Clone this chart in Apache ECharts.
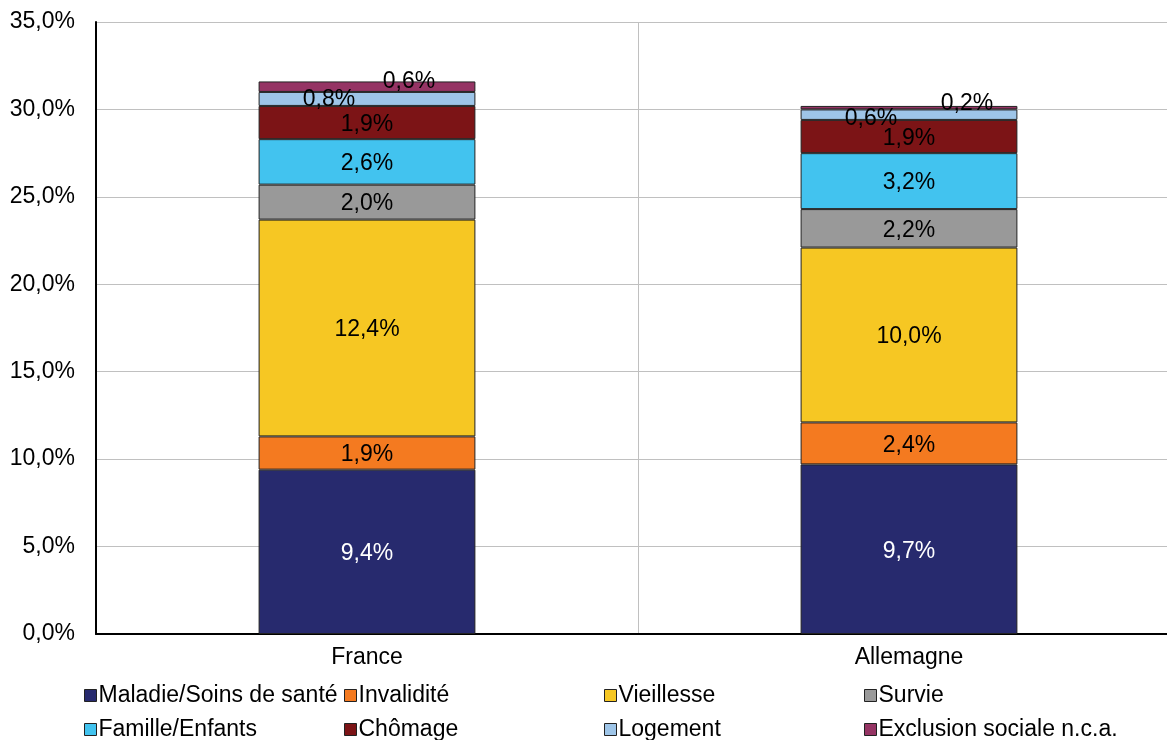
<!DOCTYPE html>
<html><head><meta charset="utf-8">
<script src="https://cdn.jsdelivr.net/npm/echarts@6/dist/echarts.min.js"></script>
<style>html,body{margin:0;padding:0;background:#fff}#c{width:1167px;height:740px}</style>
</head><body><div id="c"></div>
<script>
const categories = ['France', 'Allemagne'];
const seriesNames = ['Maladie/Soins de santé', 'Invalidité', 'Vieillesse', 'Survie', 'Famille/Enfants', 'Chômage', 'Logement', 'Exclusion sociale n.c.a.'];
const maladie = [9.4, 9.7];
const invalidite = [1.9, 2.4];
const vieillesse = [12.4, 10.0];
const survie = [2.0, 2.2];
const famille = [2.6, 3.2];
const chomage = [1.9, 1.9];
const logement = [0.8, 0.6];
const exclusion = [0.6, 0.2];
const yTicks = [0, 5, 10, 15, 20, 25, 30, 35];

const values = [maladie, invalidite, vieillesse, survie, famille, chomage, logement, exclusion];
const colors = ['#272A6E', '#F47A20', '#F6C723', '#999999', '#42C3EF', '#7C1416', '#9EC5E8', '#953464'];
const labelColors = ['#fff', '#000', '#000', '#000', '#000', '#000', '#000', '#000'];
// label offsets for thin segments: [seriesIndex][categoryIndex]
const labelOffsets = {6: [[-38, 1], [-38, 4]], 7: [[42, -5], [58, -4]]};

const FONT = '"Liberation Sans", Arial, sans-serif';
const FS = 23;
const series = values.map((arr, si) => ({
  name: seriesNames[si],
  type: 'bar',
  stack: 'total',
  barWidth: '40%',
  itemStyle: {color: colors[si], borderColor: '#222', borderWidth: 1},
  emphasis: {disabled: true},
  data: arr.map((v, ci) => {
    const item = {value: v};
    if (labelOffsets[si]) item.label = {offset: labelOffsets[si][ci]};
    return item;
  }),
  label: {
    show: true, position: 'inside', color: labelColors[si],
    fontFamily: FONT, fontSize: FS, offset: [0, 2],
    formatter: p => p.value.toFixed(1).replace('.', ',') + '%'
  }
}));

const legendLeft = [84, 344, 604, 864];
const legendTop = [684, 718];
const legends = seriesNames.map((name, i) => ({
  left: legendLeft[i % 4], top: legendTop[Math.floor(i / 4)],
  itemWidth: 12, itemHeight: 12, icon: 'rect', padding: 0,
  selectedMode: false,
  itemStyle: {borderColor: '#222', borderWidth: 1},
  textStyle: {fontFamily: FONT, fontSize: FS, color: '#000', padding: [0, 0, 0, -3]},
  data: [name]
}));

const chart = echarts.init(document.getElementById('c'), null, {renderer: 'canvas'});
chart.setOption({
  animation: false,
  backgroundColor: '#fff',
  color: colors,
  legend: legends,
  grid: {left: 96, top: 22, width: 1084, height: 612, containLabel: false, outerBoundsMode: 'none'},
  xAxis: {
    type: 'category', data: categories,
    axisLine: {show: true, lineStyle: {color: '#000', width: 2}},
    axisTick: {show: false},
    axisLabel: {fontFamily: FONT, fontSize: FS, color: '#000', margin: 12},
    splitLine: {show: true, lineStyle: {color: '#C0C0C0', width: 1}}
  },
  yAxis: {
    type: 'value', min: yTicks[0], max: yTicks[yTicks.length - 1], interval: 5,
    axisLine: {show: true, lineStyle: {color: '#000', width: 2}},
    axisTick: {show: false},
    axisLabel: {fontFamily: FONT, fontSize: FS, color: '#000', margin: 21,
      formatter: v => v.toFixed(1).replace('.', ',') + '%'},
    splitLine: {show: true, lineStyle: {color: '#C0C0C0', width: 1}}
  },
  series: series
});
</script></body></html>
